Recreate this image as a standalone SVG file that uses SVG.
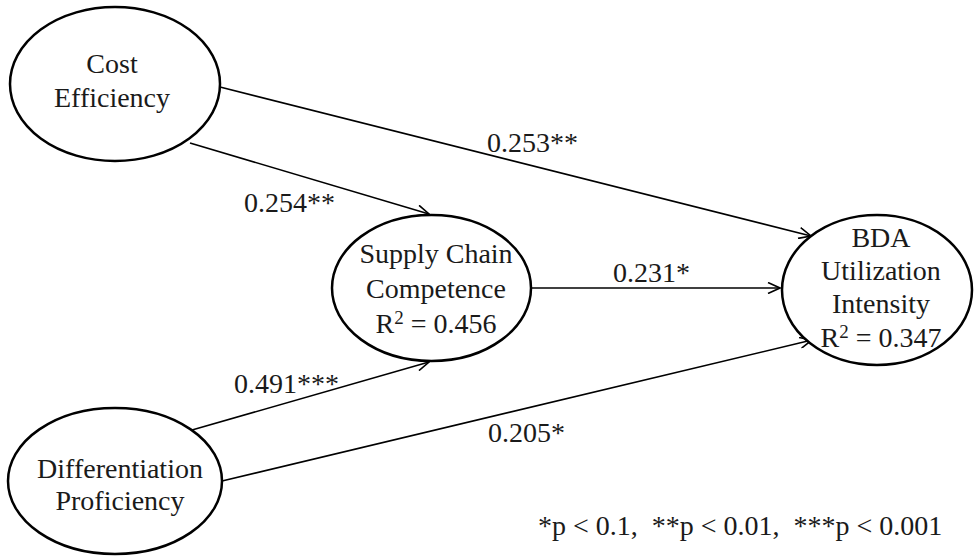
<svg xmlns="http://www.w3.org/2000/svg" width="979" height="557" viewBox="0 0 979 557">
<style>
.node ellipse { fill: #ffffff; stroke: #000000; stroke-width: 2.5; }
text { font-family: "Liberation Serif", "Times New Roman", serif; font-size: 28px; fill: #1a1a1a; }
.c { text-anchor: middle; }
.edge { stroke: #000000; stroke-width: 1.6; fill: none; marker-end: url(#arrow); }
.sup { font-size: 19px; }
</style>
<defs>
<marker id="arrow" viewBox="0 0 14 12" refX="13" refY="6" markerWidth="14" markerHeight="12" markerUnits="userSpaceOnUse" orient="auto">
<path d="M1,0.5 L13,6 L1,11.5" fill="none" stroke="#000000" stroke-width="1.6"/>
</marker>
</defs>
<rect width="979" height="557" fill="#ffffff"/>
<g id="connectors">
<line class="edge" x1="220" y1="87" x2="811" y2="236"/>
<line class="edge" x1="190" y1="143" x2="429" y2="214"/>
<line class="edge" x1="532" y1="288" x2="780" y2="288"/>
<line class="edge" x1="192" y1="430" x2="429" y2="362"/>
<line class="edge" x1="222" y1="481" x2="812" y2="340"/>
</g>
<g id="cost-efficiency" class="node">
<ellipse cx="115" cy="84" rx="105" ry="77"/>
<text class="c" x="112" y="73">Cost</text>
<text class="c" x="112" y="107">Efficiency</text>
</g>
<g id="supply-chain-competence" class="node">
<ellipse cx="431.5" cy="288" rx="99.5" ry="73"/>
<text class="c" x="436" y="263">Supply Chain</text>
<text class="c" x="436" y="298">Competence</text>
<text class="c" x="436" y="333">R<tspan class="sup" dy="-9">2</tspan><tspan dy="9"> = 0.456</tspan></text>
</g>
<g id="bda-utilization-intensity" class="node">
<ellipse cx="877" cy="290" rx="95" ry="75"/>
<text class="c" x="881" y="247">BDA</text>
<text class="c" x="881" y="280">Utilization</text>
<text class="c" x="881" y="313">Intensity</text>
<text class="c" x="881" y="347">R<tspan class="sup" dy="-9">2</tspan><tspan dy="9"> = 0.347</tspan></text>
</g>
<g id="differentiation-proficiency" class="node">
<ellipse cx="115" cy="481" rx="107" ry="73"/>
<text class="c" x="120" y="478">Differentiation</text>
<text class="c" x="120" y="510">Proficiency</text>
</g>
<g id="labels">
<text x="487" y="152">0.253**</text>
<text x="244" y="212">0.254**</text>
<text x="613" y="282">0.231*</text>
<text x="234" y="393">0.491***</text>
<text x="488" y="442">0.205*</text>
<text x="538" y="535" xml:space="preserve">*p &lt; 0.1,  **p &lt; 0.01,  ***p &lt; 0.001</text>
</g>
</svg>
